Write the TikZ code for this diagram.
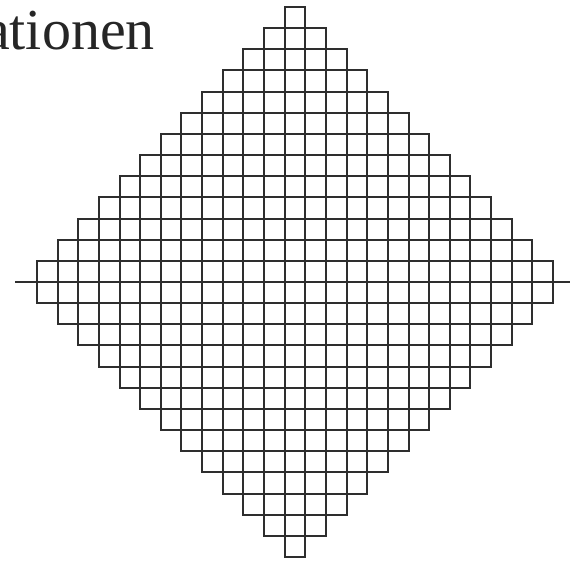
\documentclass[tikz,border=0pt]{standalone}
\usepackage{fontspec}
\setmainfont{Liberation Serif}
\begin{document}
\begin{tikzpicture}[x=1pt,y=-1pt,
  gridline/.style={draw=black!82,line width=2pt,line cap=rect},
  axisline/.style={draw=black!82,line width=2pt},
  titletext/.style={font=\fontsize{58}{61}\selectfont,text=black!85,inner sep=0pt,anchor=base east}]
\useasboundingbox (0,0) rectangle (570,560);
\clip (0,0) rectangle (570,560);
\node[titletext] (title) at (155,49) {ationen};
\def\cw{20.64}
\def\ch{21.154}
% horizontal grid lines, i = 0..26
\foreach \i in {0,...,26} {
  \pgfmathtruncatemacro\M{\i<14 ? max(\i,1) : max(26-\i,1)}
  \pgfmathtruncatemacro\M{(\i==0 || \i==26) ? 0 : \M}
  \pgfmathtruncatemacro\yy{round(7+\i*\ch)}
  \pgfmathtruncatemacro\xa{round(295-(\M+0.5)*\cw)}
  \pgfmathtruncatemacro\xb{round(295+(\M+0.5)*\cw)}
  \draw[gridline] (\xa,\yy) -- (\xb,\yy);
}
% vertical grid lines, left edge of column c = -12..13
\foreach \c in {-12,...,13} {
  \pgfmathtruncatemacro\k{min(abs(\c-1),abs(\c))}
  \pgfmathtruncatemacro\k{\c==-12 ? 12 : (\c==13 ? 12 : \k)}
  \pgfmathtruncatemacro\xx{round(295+(\c-0.5)*\cw)}
  \pgfmathtruncatemacro\ya{round(7+\k*\ch)}
  \pgfmathtruncatemacro\yb{round(7+(26-\k)*\ch)}
  \draw[gridline] (\xx,\ya) -- (\xx,\yb);
}
\coordinate (axl) at (19,282);
\coordinate (axr) at (570,282);
\draw[axisline] (axl) -- (axr);
\end{tikzpicture}
\end{document}
